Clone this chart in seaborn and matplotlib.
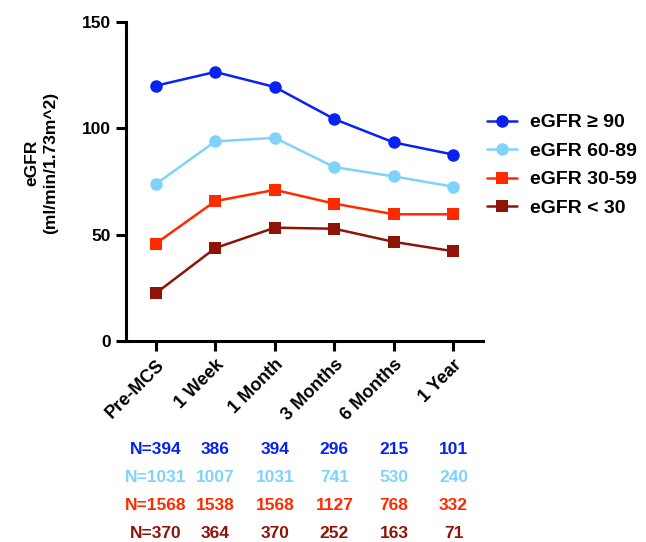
#eGFR over time after MCS, by baseline eGFR group
import numpy as np
import pandas as pd
import matplotlib
matplotlib.use('Agg')
import matplotlib.pyplot as plt
import matplotlib.transforms as mtrans
import seaborn as sns

timepoints = ['Pre-MCS', '1 Week', '1 Month', '3 Months', '6 Months', '1 Year']
groups = ['eGFR ≥ 90', 'eGFR 60-89', 'eGFR 30-59', 'eGFR < 30']

egfr_90 = [120.1, 126.6, 119.5, 104.4, 93.4, 87.7]
egfr_60_89 = [73.8, 93.9, 95.6, 81.8, 77.4, 72.6]
egfr_30_59 = [45.8, 65.8, 71.1, 64.6, 59.6, 59.6]
egfr_lt30 = [22.4, 43.7, 53.3, 52.8, 46.6, 42.2]

n_90 = ['N=394', '386', '394', '296', '215', '101']
n_60_89 = ['N=1031', '1007', '1031', '741', '530', '240']
n_30_59 = ['N=1568', '1538', '1568', '1127', '768', '332']
n_lt30 = ['N=370', '364', '370', '252', '163', '71']

colors = ['#0a22f0', '#7fd3fa', '#ff2a00', '#8e1408']
markers = ['o', 'o', 's', 's']

sns.set_style('ticks', {'axes.edgecolor': 'black', 'text.color': 'black',
                        'axes.labelcolor': 'black', 'xtick.color': 'black',
                        'ytick.color': 'black'})
plt.rcParams['font.family'] = ['Liberation Sans', 'DejaVu Sans']
plt.rcParams['font.weight'] = 'bold'

rows = []
for g, vals in zip(groups, [egfr_90, egfr_60_89, egfr_30_59, egfr_lt30]):
    for i, v in enumerate(vals):
        rows.append({'group': g, 'x': i, 'egfr': v})
df = pd.DataFrame(rows)

fig = plt.figure(figsize=(6.46, 5.42), dpi=100)
ax = fig.add_axes([0.195, 0.371, 0.553, 0.588])

sns.lineplot(data=df, x='x', y='egfr', hue='group', style='group',
             hue_order=groups, style_order=groups,
             palette=colors, markers=markers, dashes=False,
             markersize=9, markeredgewidth=0, linewidth=1.8, ax=ax)

ax.set_xlim(-0.5, 5.5)
ax.set_ylim(0, 150)
ax.set_yticks([0, 50, 100, 150])
ax.set_xticks(range(len(timepoints)))
ax.set_xticklabels(timepoints, rotation=45, ha='right', rotation_mode='anchor',
                   fontsize=13, fontweight='bold')
for lab in ax.get_yticklabels():
    lab.set_fontsize(12.5)
    lab.set_fontweight('bold')
ax.set_xlabel('')
ax.set_ylabel('eGFR\n(ml/min/1.73m^2)', fontsize=12.5, fontweight='bold',
              linespacing=1.35)
ax.yaxis.set_label_coords(-0.19, 0.558)
sns.despine(ax=ax)
for s in ['left', 'bottom']:
    ax.spines[s].set_linewidth(2.2)
ax.tick_params(axis='both', width=2.2, length=7, pad=4)

h, l = ax.get_legend_handles_labels()
ax.legend(h, l, loc='upper left', bbox_to_anchor=(487 / 646, 0.79),
          bbox_transform=fig.transFigure, frameon=False, borderpad=0,
          borderaxespad=0, prop={'size': 14, 'weight': 'bold'},
          handlelength=1.55, labelspacing=0.56, handletextpad=0.67)

# sample-size table under the axis
trans = mtrans.blended_transform_factory(ax.transData, fig.transFigure)
ys = [1 - 450 / 542, 1 - 478 / 542, 1 - 506 / 542, 1 - 533 / 542]
for nrow, c, y in zip([n_90, n_60_89, n_30_59, n_lt30], colors, ys):
    for i, t in enumerate(nrow):
        ax.text(i, y, t, transform=trans, color=c, fontsize=12.5,
                fontweight='bold', ha='center', va='center', clip_on=False)

fig.savefig('out.png', dpi=100)
